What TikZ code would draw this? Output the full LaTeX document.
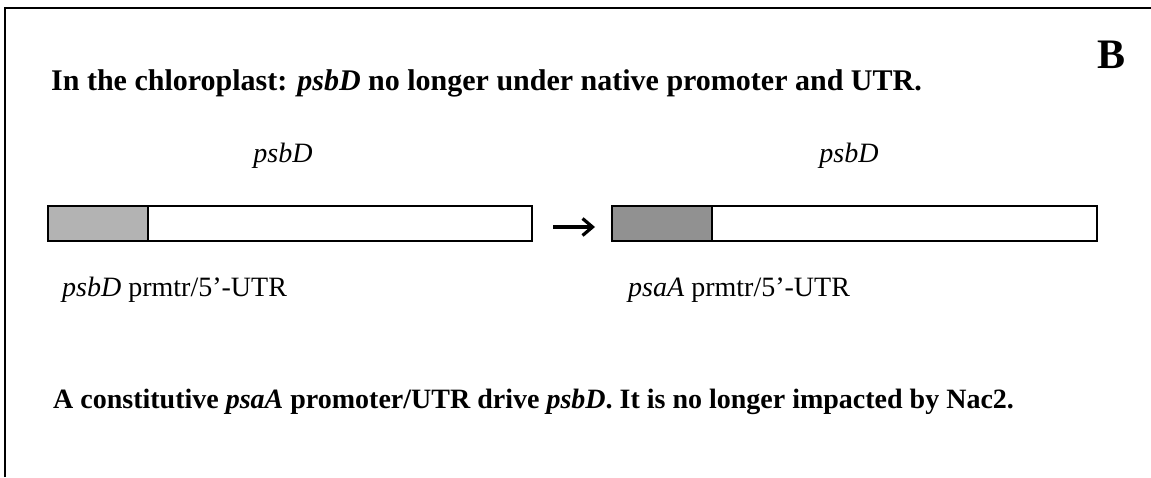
\documentclass[tikz,border=0pt]{standalone}
\usepackage{fontspec}
\setmainfont{Liberation Serif}
\usepackage{tikz}
\usetikzlibrary{arrows.meta,positioning}
\definecolor{promold}{HTML}{B3B3B3}
\definecolor{promnew}{HTML}{919191}
\tikzset{
  prom/.style={draw=black, line width=2.4pt, inner sep=0pt, outer sep=0pt,
    minimum width=100pt, minimum height=35pt},
  cds/.style={draw=black, fill=white, line width=2.4pt, inner sep=0pt, outer sep=0pt,
    minimum height=35pt},
  headline/.style={font=\fontsize{28}{32}\selectfont\bfseries, anchor=base west, inner sep=0pt},
  genelab/.style={font=\fontsize{28}{32}\selectfont\itshape, anchor=base, inner sep=0pt},
  promlab/.style={font=\fontsize{28}{32}\selectfont, anchor=base west, inner sep=0pt},
  swap/.style={-{Straight Barb[length=10pt,width=17pt]}, line width=3.2pt},
}

\begin{document}
\begin{tikzpicture}[x=1pt,y=-1pt]
  \useasboundingbox (0,0) rectangle (1151,477);
  % panel frame, cut at right and bottom
  \draw[line width=2pt] (5,477) -- (5,8) -- (1151,8);
  \node[font=\fontsize{42}{46}\selectfont\bfseries, anchor=base west, inner sep=0pt] (panel) at (1097,68) {B};
  \node[headline, font=\fontsize{30}{34}\selectfont\bfseries] (top) at (51,90) {In the chloroplast: \textit{psbD} no longer under native promoter and UTR.};
  % native construct
  \node[prom, fill=promold, anchor=north west] (p1) at (48,206) {};
  \node[cds, minimum width=384pt, anchor=west] (g1) at (p1.east) {};
  \node[genelab] (n1) at (283,162) {psbD};
  \node[promlab] (l1) at (62,296) {\textit{psbD} prmtr/5’-UTR};
  % replaced construct
  \node[prom, fill=promnew, anchor=north west] (p2) at (612,206) {};
  \node[cds, minimum width=385pt, anchor=west] (g2) at (p2.east) {};
  \node[genelab] (n2) at (849,162) {psbD};
  \node[promlab] (l2) at (628,296) {\textit{psaA} prmtr/5’-UTR};
  \coordinate (a1) at (553,227);
  \coordinate (a2) at (595,227);
  \draw[swap] (a1) -- (a2);
  \node[headline] (bottom) at (53,408) {A constitutive \textit{psaA} promoter/UTR drive \textit{psbD}. It is no longer impacted by Nac2.};
\end{tikzpicture}
\end{document}
